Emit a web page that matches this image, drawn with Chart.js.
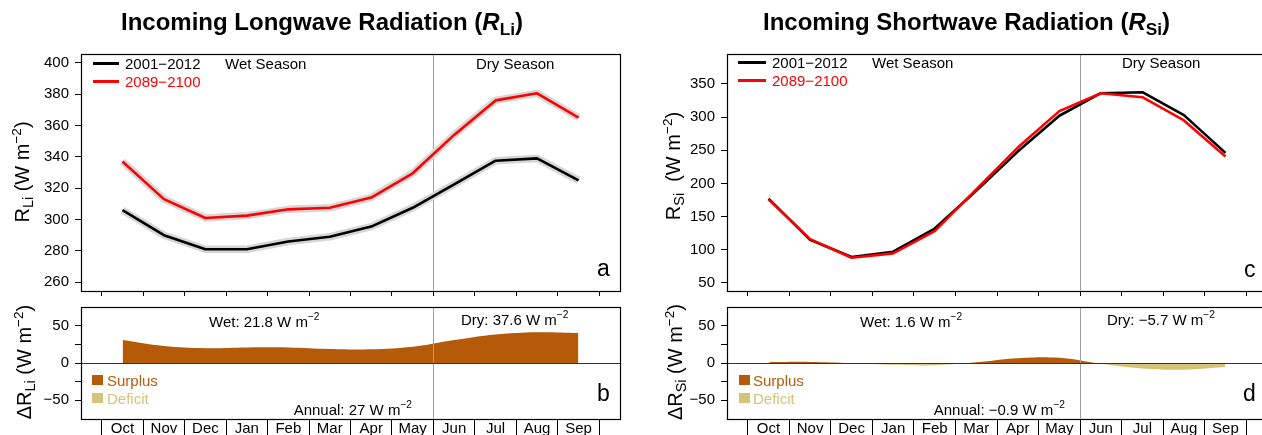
<!DOCTYPE html>
<html>
<head>
<meta charset="utf-8">
<script src="https://cdn.jsdelivr.net/npm/chart.js@4.4.1/dist/chart.umd.min.js"></script>
<style>
  html, body { margin: 0; padding: 0; background: #fff; overflow: hidden; }
  #lienzo { position: relative; width: 1262px; height: 435px; overflow: hidden;
            font-family: "Liberation Sans", Arial, sans-serif; color: #000; }
  canvas { position: absolute; }
  .txt { position: absolute; white-space: nowrap; font-size: 15px; line-height: 1; transform: translateY(-50%); }
  .txt sup { font-size: 0.68em; vertical-align: 0.6em; line-height: 0; }
  .txt sub { font-size: 0.72em; vertical-align: -0.3em; line-height: 0; }
  .muestra { position: absolute; }
</style>
</head>
<body>
<div id="lienzo">
  <canvas id="cLi" width="640" height="267" style="left:0;top:39px"></canvas>
  <canvas id="cDLi" width="640" height="143" style="left:0;top:292px"></canvas>
  <canvas id="cSi" width="640" height="267" style="left:640px;top:39px"></canvas>
  <canvas id="cDSi" width="640" height="143" style="left:640px;top:292px"></canvas>
</div>
<script>
// Datos (medias mensuales, W m-2)
const meses = ['Oct', 'Nov', 'Dec', 'Jan', 'Feb', 'Mar', 'Apr', 'May', 'Jun', 'Jul', 'Aug', 'Sep'];
const rliActual = [306, 290, 281, 281, 286, 289, 295.5, 307.5, 322.5, 337.5, 339, 325];
const rliFuturo = [337, 313, 301, 302.5, 306.5, 307.5, 314, 329.5, 354, 376, 380.5, 365];
const rliDelta  = [31, 23, 20, 21, 21, 19, 18.5, 22, 31, 38.5, 41.5, 40.5];
const rsiActual = [177, 115, 89, 97, 132, 189, 248, 302, 336, 337.5, 303, 246];
const rsiFuturo = [176, 116, 88, 94.5, 128, 191, 254, 309, 336, 330, 295, 240.5];
const rsiDelta  = [1, 1.5, 0, -2.5, -3, 1, 6.5, 7, -1, -7.5, -9, -5.5];
const ticksRli   = [260, 280, 300, 320, 340, 360, 380, 400];
const ticksRsi   = [50, 100, 150, 200, 250, 300, 350];
const ticksDelta = [-50, -25, 0, 25, 50];

const colorSuperavit = '#b45a09';
const colorDeficit = '#d5c37a';

Chart.defaults.font.family = '"Liberation Sans", Arial, sans-serif';
Chart.defaults.font.size = 15;
Chart.defaults.color = '#000';

// bordes entre meses y centros (indice del mes)
const bordes = meses.map((m, i) => i - 0.5).concat(meses.length - 0.5);
const bordesYCentros = bordes.concat(meses.map((m, i) => i)).sort((a, b) => a - b);
const inicioSecas = meses.indexOf('Jun') - 0.5;

const pts = serie => serie.map((v, i) => ({ x: i, y: v }));

function escalaX(abajo) {
  return {
    type: 'linear', min: -1, max: 12,
    afterBuildTicks: s => { s.ticks = (abajo ? bordesYCentros : bordes).map(v => ({ value: v })); },
    afterFit: s => { s.height = abajo ? 16 : 5; },
    border: { display: false },
    grid: {
      drawOnChartArea: false, tickLength: abajo ? 16 : 5, tickWidth: 1,
      tickColor: ctx => (ctx.tick && Number.isInteger(ctx.tick.value)) ? 'rgba(0,0,0,0)' : '#000'
    },
    ticks: {
      display: abajo, autoSkip: false, maxRotation: 0, minRotation: 0, padding: -15,
      callback: v => Number.isInteger(v) ? meses[v] : ''
    }
  };
}

function escalaY(min, max, marcas, ancho, etiqueta) {
  return {
    type: 'linear', min: min, max: max,
    afterBuildTicks: s => { s.ticks = marcas.map(v => ({ value: v })); },
    afterFit: s => { s.width = ancho; },
    border: { display: false },
    grid: { drawOnChartArea: false, tickLength: 6, tickColor: '#000', tickWidth: 1 },
    ticks: { padding: 6, callback: etiqueta || (v => v) }
  };
}

const etiquetaDelta = v => v % 50 === 0 ? String(v).replace('-', '\u2212') : '';

// caja, linea de cero y separador de estaciones
const marco = {
  id: 'marco',
  beforeDatasetsDraw(chart, args, opts) {
    if (!opts.separadorEncima) separador(chart);
  },
  afterDatasetsDraw(chart, args, opts) {
    const { ctx, chartArea: a, scales } = chart;
    if (opts.separadorEncima) separador(chart);
    ctx.save();
    if (opts.cero) {
      const y0 = Math.round(scales.y.getPixelForValue(0)) + 0.5;
      ctx.strokeStyle = '#333';
      ctx.lineWidth = 1.2;
      ctx.beginPath(); ctx.moveTo(a.left, y0); ctx.lineTo(a.right, y0); ctx.stroke();
    }
    ctx.strokeStyle = '#000';
    ctx.lineWidth = 1.2;
    ctx.strokeRect(Math.round(a.left) + 0.5, Math.round(a.top) + 0.5,
                   Math.round(a.right - a.left), Math.round(a.bottom - a.top));
    ctx.restore();
  }
};

function separador(chart) {
  const { ctx, chartArea: a, scales } = chart;
  const x = Math.round(scales.x.getPixelForValue(inicioSecas)) + 0.5;
  ctx.save();
  ctx.strokeStyle = '#a0a0a0';
  ctx.lineWidth = 1;
  ctx.beginPath(); ctx.moveTo(x, a.top); ctx.lineTo(x, a.bottom); ctx.stroke();
  ctx.restore();
}

function lineas(actual, futuro, conBanda) {
  const ds = [
    { data: pts(futuro), borderColor: '#ff0000', borderWidth: 2.6 },
    { data: pts(actual), borderColor: '#000000', borderWidth: 2.6 }
  ];
  if (conBanda) {
    ds.push({ data: pts(futuro), borderColor: '#d6d6d6', borderWidth: 7.5 });
    ds.push({ data: pts(actual), borderColor: '#d6d6d6', borderWidth: 7.5 });
  }
  return ds;
}

function area(delta) {
  return [{
    data: pts(delta), tension: 0.4, borderWidth: 0, borderColor: 'rgba(0,0,0,0)',
    backgroundColor: colorSuperavit,
    fill: { target: 'origin', above: colorSuperavit, below: colorDeficit }
  }];
}

function panel(id, datasets, escY, abajo, padding, opcionesMarco) {
  return new Chart(document.getElementById(id), {
    type: 'line',
    data: { datasets: datasets },
    options: {
      responsive: false, animation: false, events: [],
      layout: { padding: padding },
      elements: { point: { radius: 0 }, line: { tension: 0, borderJoinStyle: 'round', fill: false } },
      plugins: { legend: { display: false }, tooltip: { enabled: false }, marco: opcionesMarco },
      scales: { x: escalaX(abajo), y: escY }
    },
    plugins: [marco]
  });
}

panel('cLi', lineas(rliActual, rliFuturo, true), escalaY(254.4, 405.6, ticksRli, 81),
      false, { top: 12, right: 20, bottom: 7, left: 0 }, {});
panel('cDLi', area(rliDelta), escalaY(-75.5, 75.5, ticksDelta, 81, etiquetaDelta),
      true, { top: 12, right: 20, bottom: 0, left: 0 }, { cero: true, separadorEncima: true });
panel('cSi', lineas(rsiActual, rsiFuturo, false), escalaY(37.8, 395.1, ticksRsi, 87),
      false, { top: 12, right: 13, bottom: 7, left: 0 }, {});
panel('cDSi', area(rsiDelta), escalaY(-75.5, 75.5, ticksDelta, 87, etiquetaDelta),
      true, { top: 12, right: 13, bottom: 0, left: 0 }, { cero: true, separadorEncima: true });

// textos y leyendas
const lienzo = document.getElementById('lienzo');
function texto(html, x, y, estilo) {
  const d = document.createElement('div');
  d.className = 'txt';
  d.innerHTML = html;
  d.style.left = x + 'px';
  d.style.top = y + 'px';
  Object.assign(d.style, estilo || {});
  lienzo.appendChild(d);
}
function muestra(x, y, w, h, color) {
  const d = document.createElement('div');
  d.className = 'muestra';
  Object.assign(d.style, { left: x + 'px', top: y + 'px', width: w + 'px', height: h + 'px', background: color });
  lienzo.appendChild(d);
}
const wm2 = 'W m<sup>\u22122</sup>';
const titulo = { fontSize: '24px', fontWeight: 'bold' };
const rotado = { fontSize: '20px', transform: 'translate(-50%,-50%) rotate(-90deg)' };
const derecha = { transform: 'translate(-100%,-50%)' };
const letra = { fontSize: '23px' };

texto('Incoming Longwave Radiation (<i>R</i><sub>Li</sub>)', 121, 22, titulo);
texto('Incoming Shortwave Radiation (<i>R</i><sub>Si</sub>)', 763, 22, titulo);

texto('R<sub>Li</sub> (' + wm2 + ')', 22, 172, rotado);
texto('\u0394R<sub>Li</sub> (' + wm2 + ')', 24, 362, rotado);
texto('R<sub>Si</sub>&nbsp; (' + wm2 + ')', 673, 166, rotado);
texto('\u0394R<sub>Si</sub> (' + wm2 + ')', 675, 362, rotado);

// panel a
muestra(93, 62, 26, 2.6, '#000');
muestra(93, 80, 26, 2.6, '#ff0000');
texto('2001\u22122012', 125, 63);
texto('2089\u22122100', 125, 81, { color: '#ff0000' });
texto('Wet Season', 225, 63);
texto('Dry Season', 476, 63);
texto('a', 597, 268, letra);
// panel b
texto('Wet: 21.8 ' + wm2, 209, 321);
texto('Dry: 37.6 ' + wm2, 461, 319);
texto('Annual: 27 ' + wm2, 412, 409, derecha);
muestra(92, 375, 11, 10, colorSuperavit);
muestra(92, 393, 11, 10, colorDeficit);
texto('Surplus', 107, 380, { color: colorSuperavit });
texto('Deficit', 107, 398, { color: colorDeficit });
texto('b', 597, 393, letra);
// panel c
muestra(738, 61, 28, 2.6, '#000');
muestra(738, 79, 28, 2.6, '#ff0000');
texto('2001\u22122012', 772, 62);
texto('2089\u22122100', 772, 80, { color: '#ff0000' });
texto('Wet Season', 872, 62);
texto('Dry Season', 1122, 62);
texto('c', 1244, 269, letra);
// panel d
texto('Wet: 1.6 ' + wm2, 860, 321);
texto('Dry: \u22125.7 ' + wm2, 1107, 319);
texto('Annual: \u22120.9 ' + wm2, 1065, 409, derecha);
muestra(739, 375, 11, 10, colorSuperavit);
muestra(739, 393, 11, 10, colorDeficit);
texto('Surplus', 753, 380, { color: colorSuperavit });
texto('Deficit', 753, 398, { color: colorDeficit });
texto('d', 1243, 393, letra);
</script>
</body>
</html>
